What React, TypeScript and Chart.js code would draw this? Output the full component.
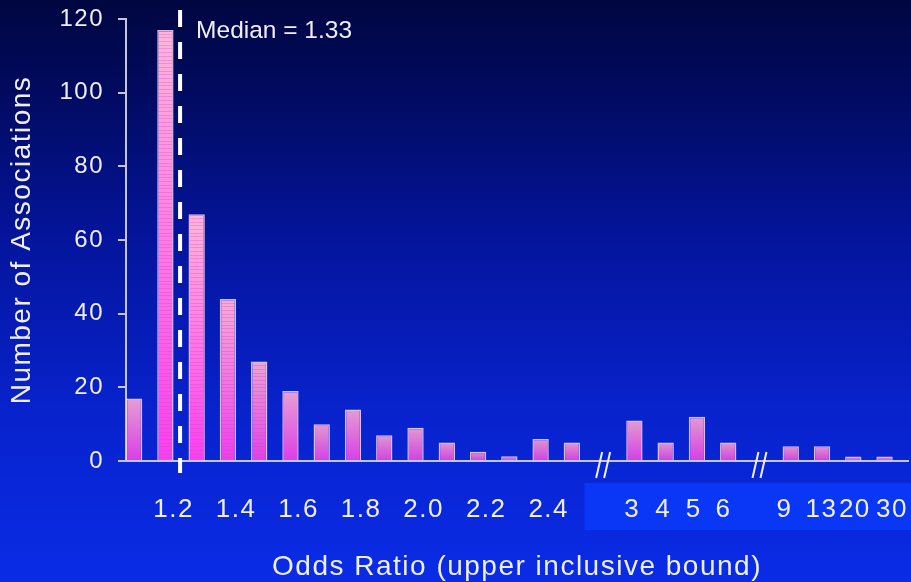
import React, { useEffect, useRef } from 'react';
import { Chart, registerables } from 'chart.js';

Chart.register(...registerables);

// ---- data ----
const binLabels = ['1.1', '1.2', '1.3', '1.4', '1.5', '1.6', '1.7', '1.8', '1.9', '2.0', '2.1', '2.2', '2.3', '2.4', '2.5', '', '3', '4', '5', '6', '', '9', '13', '20', '30'];
const counts: (number | null)[] = [17, 117, 67, 44, 27, 19, 10, 14, 7, 9, 5, 2.5, 1.3, 6, 5, null, 11, 5, 12, 5, null, 4, 4, 1.2, 1.2];
const tickLabels = ['1.2', '1.4', '1.6', '1.8', '2.0', '2.2', '2.4', '3', '4', '5', '6', '9', '13', '20', '30'];
const yTickValues = [0, 20, 40, 60, 80, 100, 120];
const breakSlots = [15, 20];
const medianSlot = 1.47;
const medianText = 'Median = 1.33';
const xTitle = 'Odds Ratio (upper inclusive bound)';
const yTitle = 'Number of Associations';

// label placement tweaks (style, in category-slot units)
const decimalLabelShift = 0.26;
const labelNudge: Record<string, number> = { '3': -0.07, '4': -0.08, '5': -0.1, '6': -0.15, '9': -0.2, '13': -0.02, '20': 0.05, '30': 0.24 };

const FONT = '"Liberation Sans", Arial, Helvetica, sans-serif';
const TEXT = '#eeeef8';
const AXIS = '#c4c4dc';

function lerp(a: number[], b: number[], t: number) {
  return `rgb(${a.map((v, i) => Math.round(v + (b[i] - v) * t)).join(',')})`;
}

export default function App() {
  const ref = useRef<HTMLCanvasElement>(null);

  useEffect(() => {
    document.body.style.margin = '0';
    const canvas = ref.current!;
    const points = counts
      .map((c, i) => (c == null ? null : { x: i, y: c }))
      .filter((p) => p !== null) as { x: number; y: number }[];

    const bgPlugin = {
      id: 'bg',
      beforeDraw(chart: any) {
        const { ctx, width, height, scales, chartArea } = chart;
        ctx.save();
        const g = ctx.createLinearGradient(0, 0, 0, height);
        g.addColorStop(0, '#000640');
        g.addColorStop(0.15, '#010a5e');
        g.addColorStop(0.4, '#04149a');
        g.addColorStop(0.7, '#0822cc');
        g.addColorStop(1, '#0a2ce6');
        ctx.fillStyle = g;
        ctx.fillRect(0, 0, width, height);
        const left = scales.x.getPixelForValue(breakSlots[0] - 0.6);
        ctx.fillStyle = '#0a36f6';
        ctx.fillRect(left, chartArea.bottom + 22, width - left, 47);
        ctx.restore();
        ctx.letterSpacing = '1.5px';
      },
    };

    const overlayPlugin = {
      id: 'overlay',
      afterDatasetsDraw(chart: any) {
        const { ctx, scales, chartArea } = chart;
        const xs = scales.x;
        const ys = scales.y;
        ctx.save();
        // stripes: one per association on the tall bars
        const meta = chart.getDatasetMeta(0);
        meta.data.forEach((bar: any, i: number) => {
          const v = points[i].y;
          if (v <= 20) return;
          const { x, width } = bar.getProps(['x', 'width'], true);
          ctx.strokeStyle = 'rgba(205,70,190,0.3)';
          ctx.lineWidth = 1;
          for (let k = 1; k < Math.floor(v); k++) {
            const yy = Math.round(ys.getPixelForValue(k)) + 0.5;
            ctx.beginPath();
            ctx.moveTo(x - width / 2 + 1.5, yy);
            ctx.lineTo(x + width / 2 - 1.5, yy);
            ctx.stroke();
          }
        });
        // median line
        const mx = xs.getPixelForValue(medianSlot);
        ctx.strokeStyle = '#ffffff';
        ctx.lineWidth = 4;
        ctx.setLineDash([17, 15]);
        ctx.beginPath();
        ctx.moveTo(mx, chartArea.top - 9);
        ctx.lineTo(mx, chartArea.bottom + 12);
        ctx.stroke();
        ctx.setLineDash([]);
        ctx.letterSpacing = '0px';
        ctx.fillStyle = TEXT;
        ctx.font = `24.5px ${FONT}`;
        ctx.textBaseline = 'alphabetic';
        ctx.textAlign = 'left';
        ctx.fillText(medianText, mx + 16, chartArea.top + 19);
        // axis break marks
        ctx.lineWidth = 2;
        ctx.strokeStyle = '#f0f0ff';
        breakSlots.forEach((s) => {
          const cx = xs.getPixelForValue(s);
          [-4, 4].forEach((o) => {
            ctx.beginPath();
            ctx.moveTo(cx + o - 3, chartArea.bottom + 17);
            ctx.lineTo(cx + o + 3, chartArea.bottom - 9);
            ctx.stroke();
          });
        });
        ctx.restore();
      },
    };

    const chart = new Chart(canvas, {
      type: 'bar',
      data: {
        datasets: [
          {
            data: points as any,
            barPercentage: 0.55,
            categoryPercentage: 1,
            borderWidth: 1.5,
            borderColor: 'rgba(255,215,250,0.85)',
            backgroundColor: (c: any) => {
              const chart = c.chart;
              const ys = chart.scales?.y;
              if (!ys || !c.raw) return '#e060e0';
              const v = c.raw.y;
              const top = ys.getPixelForValue(v);
              const base = ys.getPixelForValue(0);
              if (!isFinite(top) || !isFinite(base) || top === base) return '#e060e0';
              const t = Math.min(v / 60, 1);
              const g = chart.ctx.createLinearGradient(0, top, 0, base);
              g.addColorStop(0, lerp([218, 150, 204], [255, 182, 220], t));
              g.addColorStop(1, lerp([206, 62, 228], [250, 62, 240], t));
              return g;
            },
          },
        ],
      },
      options: {
        animation: false,
        responsive: false,
        devicePixelRatio: 1,
        layout: { padding: { top: 19, right: 3, left: 0, bottom: 0 } },
        plugins: { legend: { display: false }, tooltip: { enabled: false } },
        scales: {
          x: {
            type: 'linear',
            offset: false,
            min: -0.26,
            max: 24.75,
            grid: { display: false, drawTicks: false },
            border: { display: true, color: AXIS, width: 2 },
            afterBuildTicks: (s: any) => {
              s.ticks = tickLabels.map((l) => ({
                value: binLabels.indexOf(l) + (l.includes('.') ? decimalLabelShift : labelNudge[l] || 0),
              }));
            },
            afterFit: (s: any) => {
              s.height = 121;
              s.paddingLeft = 0;
              s.paddingRight = 0;
            },
            ticks: {
              color: TEXT,
              font: { family: FONT, size: 26 },
              padding: 33,
              maxRotation: 0,
              autoSkip: false,
              callback: (v: any) => binLabels[Math.round(Number(v))],
            },
            title: {
              display: true,
              text: xTitle,
              color: TEXT,
              font: { family: FONT, size: 28, lineHeight: 1 },
              padding: { top: 0, bottom: 1 },
            },
          },
          y: {
            min: 0,
            max: 120,
            afterBuildTicks: (s: any) => {
              s.ticks = yTickValues.map((v) => ({ value: v }));
            },
            afterFit: (s: any) => {
              s.width = 126;
              s.paddingTop = 0;
              s.paddingBottom = 0;
            },
            grid: { drawOnChartArea: false, drawTicks: true, tickLength: 8, color: AXIS, lineWidth: 2 },
            border: { display: true, color: AXIS, width: 2 },
            ticks: { color: TEXT, font: { family: FONT, size: 24 }, padding: 14 },
            title: {
              display: true,
              text: yTitle,
              color: TEXT,
              font: { family: FONT, size: 28, lineHeight: 1 },
              padding: { top: 8, bottom: 0 },
            },
          },
        },
      } as any,
      plugins: [bgPlugin, overlayPlugin],
    });

    return () => chart.destroy();
  }, []);

  return (
    <div style={{ width: 911, height: 582 }}>
      <canvas ref={ref} width={911} height={582} style={{ display: 'block' }} />
    </div>
  );
}
